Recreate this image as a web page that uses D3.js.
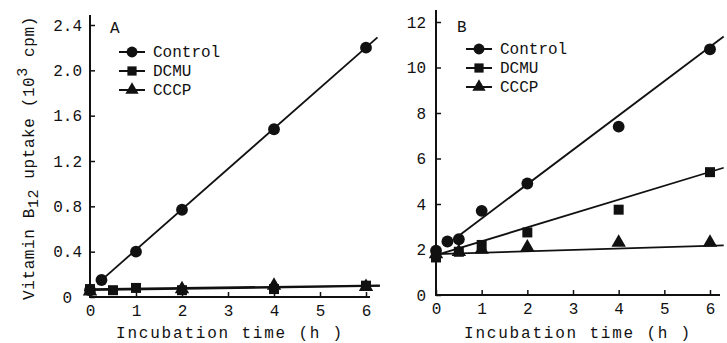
<!DOCTYPE html>
<html>
<head>
<meta charset="utf-8">
<script src="https://cdn.jsdelivr.net/npm/d3@7"></script>
<style>
  body { margin: 0; background: #fff; }
  svg { display: block; }
  text { font-family: "Liberation Mono", "Courier New", monospace; fill: #111; }
</style>
</head>
<body>
<svg id="chart" width="727" height="343"></svg>
<script>
// panel A: vitamin B12 uptake (10^3 cpm)
const controlA_t = [0, 0.25, 1, 2, 4, 6]
const controlA_v = [0.06, 0.15, 0.40, 0.77, 1.48, 2.20]
const dcmuA_t = [0, 0.5, 1, 2, 4, 6]
const dcmuA_v = [0.07, 0.06, 0.08, 0.06, 0.07, 0.10]
const cccpA_t = [0, 2, 4, 6]
const cccpA_v = [0.05, 0.07, 0.10, 0.09]
// fitted lines: [intercept, slope, tStart, tEnd]
const fitsA = [[0.06, 0.357, 0.25, 6.25], [0.07, 0.005, 0, 6.3], [0.06, 0.006, 0, 6.3]]

// panel B
const controlB_t = [0, 0.25, 0.5, 1, 2, 4, 6]
const controlB_v = [1.95, 2.35, 2.45, 3.7, 4.9, 7.4, 10.8]
const dcmuB_t = [0, 0.5, 1, 2, 4, 6]
const dcmuB_v = [1.65, 1.9, 2.2, 2.75, 3.75, 5.4]
const cccpB_t = [0, 0.5, 1, 2, 4, 6]
const cccpB_v = [1.8, 1.9, 2.0, 2.1, 2.3, 2.3]
const fitsB = [[1.85, 1.51, 0.5, 6.3], [1.75, 0.61, 0, 6.3], [1.8, 0.06, 0, 6.3]]

const seriesNames = ["Control", "DCMU", "CCCP"]
const symbols = [d3.symbolCircle, d3.symbolSquare, d3.symbolTriangle]
const symbolSizes = [110, 100, 90]

const xTicks = [0, 1, 2, 3, 4, 5, 6]
const yTicksA = [0, 0.4, 0.8, 1.2, 1.6, 2.0, 2.4]
const yTicksB = [0, 2, 4, 6, 8, 10, 12]

const svg = d3.select("#chart")
svg.append("rect").attr("width", 727).attr("height", 343).attr("fill", "#fff")

function zip(t, v) { return t.map((d, i) => [d, v[i]]) }

function drawPanel(p) {
  const g = svg.append("g")
  const x = d3.scaleLinear().domain([0, 6]).range(p.xr)
  const y = d3.scaleLinear().domain([0, p.ymax]).range(p.yr)

  // axes, ticks pointing inward
  const xa = g.append("g")
    .attr("transform", "translate(0," + p.yr[0] + ")")
    .call(d3.axisBottom(x).tickValues(xTicks).tickFormat(d3.format("d"))
      .tickSizeInner(-5).tickSizeOuter(0).tickPadding(8))
  xa.select(".domain").remove()
  xa.selectAll("text").style("font-size", "16px").attr("fill", "#111")
  xa.selectAll("line").attr("stroke", "#111").attr("stroke-width", 1.5)

  const ya = g.append("g")
    .attr("transform", "translate(" + p.xr[0] + ",0)")
    .call(d3.axisLeft(y).tickValues(p.yTicks).tickFormat(p.fmt)
      .tickSizeInner(-5).tickSizeOuter(0).tickPadding(p.pad))
  ya.select(".domain").remove()
  ya.selectAll("text").style("font-size", "16px").attr("fill", "#111")
    .attr("dx", d => d === 0 ? p.zeroDx : 0)
  ya.selectAll("line").attr("stroke", "#111").attr("stroke-width", 1.5)

  g.append("line")
    .attr("x1", p.xr[0]).attr("x2", p.xEnd)
    .attr("y1", p.yr[0]).attr("y2", p.yr[0])
    .attr("stroke", "#111").attr("stroke-width", 2)
  g.append("line")
    .attr("x1", p.xr[0]).attr("x2", p.xr[0])
    .attr("y1", p.yr[0] + 1).attr("y2", p.yTop)
    .attr("stroke", "#111").attr("stroke-width", 2)

  // fitted lines
  g.selectAll(".fit").data(p.fits).enter().append("line")
    .attr("class", "fit")
    .attr("x1", d => x(d[2])).attr("y1", d => y(d[0] + d[1] * d[2]))
    .attr("x2", d => x(d[3])).attr("y2", d => y(d[0] + d[1] * d[3]))
    .attr("stroke", "#111").attr("stroke-width", 1.8)

  // points
  p.series.forEach(function (s, i) {
    g.selectAll(".pt" + i).data(s).enter().append("path")
      .attr("class", "pt" + i)
      .attr("d", d3.symbol().type(symbols[i]).size(symbolSizes[i]))
      .attr("transform", d => "translate(" + x(d[0]) + "," + y(d[1]) + ")")
      .attr("fill", "#111")
  })

  // panel letter
  g.append("text").attr("x", p.letterPos[0]).attr("y", p.letterPos[1])
    .style("font-size", "16px").text(p.letter)

  // legend
  const lg = g.append("g")
  seriesNames.forEach(function (name, i) {
    const ly = p.legY + i * 19
    lg.append("line")
      .attr("x1", p.legX - 13).attr("x2", p.legX + 13)
      .attr("y1", ly).attr("y2", ly)
      .attr("stroke", "#111").attr("stroke-width", 2)
    lg.append("path")
      .attr("d", d3.symbol().type(symbols[i]).size(symbolSizes[i] * 0.85))
      .attr("transform", "translate(" + p.legX + "," + ly + ")")
      .attr("fill", "#111")
    lg.append("text").attr("x", p.legX + 21).attr("y", ly + 5)
      .style("font-size", "16px").text(name)
  })

  // x title
  g.append("text")
    .attr("x", p.titleX).attr("y", 338)
    .attr("text-anchor", "middle")
    .style("font-size", "16px").style("letter-spacing", "1.8px")
    .text("Incubation time (h )")
}

drawPanel({
  xr: [90, 366], yr: [297, 25], ymax: 2.4, yTicks: yTicksA,
  fmt: d => d === 0 ? "0" : d3.format(".1f")(d), pad: 8, zeroDx: -10,
  xEnd: 370, yTop: 15, fits: fitsA,
  series: [zip(controlA_t, controlA_v), zip(dcmuA_t, dcmuA_v), zip(cccpA_t, cccpA_v)],
  letter: "A", letterPos: [110, 33], legX: 132, legY: 52, titleX: 230
})

drawPanel({
  xr: [436, 710], yr: [295, 22], ymax: 12, yTicks: yTicksB,
  fmt: d3.format("d"), pad: 10, zeroDx: 0,
  xEnd: 720, yTop: 10, fits: fitsB,
  series: [zip(controlB_t, controlB_v), zip(dcmuB_t, dcmuB_v), zip(cccpB_t, cccpB_v)],
  letter: "B", letterPos: [457, 32], legX: 479, legY: 49, titleX: 578
})

// y axis title (panel A)
const yt = svg.append("text")
  .attr("transform", "translate(34,158) rotate(-90)")
  .attr("text-anchor", "middle")
  .style("font-size", "16px").style("letter-spacing", "0.6px")
yt.append("tspan").text("Vitamin B")
yt.append("tspan").attr("baseline-shift", "-25%").style("font-size", "15px").text("12")
yt.append("tspan").text(" uptake (10")
yt.append("tspan").attr("baseline-shift", "45%").style("font-size", "15px").text("3")
yt.append("tspan").text(" cpm)")
</script>
</body>
</html>
